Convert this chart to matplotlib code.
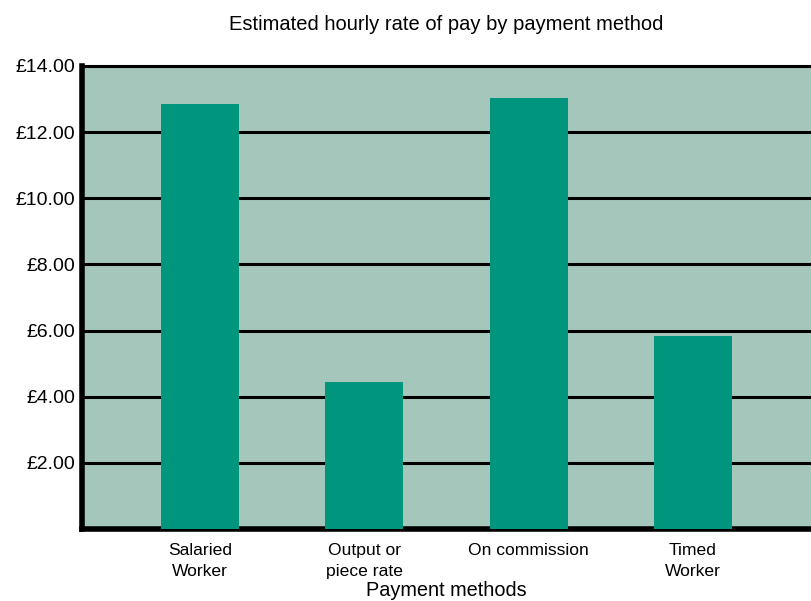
import matplotlib.pyplot as plt

plt.rcParams['font.family'] = ['Liberation Sans', 'DejaVu Sans']

methods = ["Salaried\nWorker", "Output or\npiece rate", "On commission", "Timed\nWorker"]
hourly_pay = [12.85, 4.45, 13.02, 5.83]
y_ticks = [2, 4, 6, 8, 10, 12, 14]

fig = plt.figure(figsize=(8.11, 6.01), dpi=100)
ax = fig.add_axes([82 / 811, 1 - 529 / 601, 1 - 82 / 811, (529 - 66) / 601])

ax.set_facecolor("#a5c7bb")
ax.bar(range(len(methods)), hourly_pay, width=0.475, color="#00967d", zorder=3)

ax.set_ylim(0, 14)
ax.set_xlim(-0.72, 3.72)
ax.set_yticks(y_ticks)
ax.set_yticklabels([f"£{v:.2f}" for v in y_ticks], fontsize=14)
ax.set_xticks(range(len(methods)))
ax.set_xticklabels(methods, fontsize=12.6, linespacing=1.55)
ax.tick_params(length=0, pad=5)
ax.tick_params(axis="x", pad=10)

ax.grid(axis="y", color="black", linewidth=2.2, zorder=1)
ax.set_axisbelow(True)
for side in ["left", "bottom"]:
    ax.spines[side].set_linewidth(4)
ax.spines["top"].set_linewidth(2.2)
ax.spines["right"].set_visible(False)

ax.set_title("Estimated hourly rate of pay by payment method", fontsize=14.5, pad=26)
ax.set_xlabel("Payment methods", fontsize=14.3, labelpad=1)

fig.savefig("out.png", dpi=100)
